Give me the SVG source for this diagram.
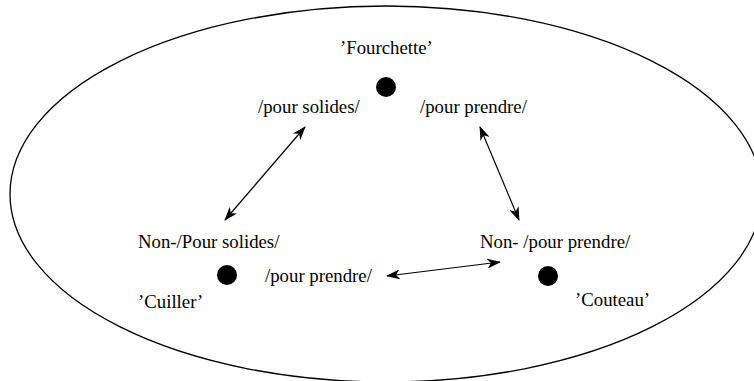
<svg xmlns="http://www.w3.org/2000/svg" width="754" height="381" viewBox="0 0 754 381">
<style>
text{font-family:"Liberation Serif","Times New Roman",serif;font-size:18.8px;fill:#000}
.c{stroke:#000;stroke-width:1.2;fill:none;marker-start:url(#ah);marker-end:url(#ah)}
.dot{fill:#000}
</style>
<defs>
<marker id="ah" viewBox="0 0 14 10" refX="13" refY="5" markerWidth="14" markerHeight="10" markerUnits="userSpaceOnUse" orient="auto-start-reverse">
<path d="M0,0 L14,5 L0,10 L4,5 Z" fill="#000"/>
</marker>
</defs>
<rect width="754" height="381" fill="#fff"/>
<ellipse cx="386" cy="194" rx="376" ry="188" fill="none" stroke="#000" stroke-width="1.3"/>
<g id="fourchette">
<text x="340" y="54">’Fourchette’</text>
<circle class="dot" cx="386" cy="87" r="10"/>
<text x="258" y="113">/pour solides/</text>
<text x="420" y="113">/pour prendre/</text>
</g>
<g id="cuiller">
<text x="138" y="248">Non-/Pour solides/</text>
<circle class="dot" cx="227" cy="275" r="10"/>
<text x="265" y="282">/pour prendre/</text>
<text x="138" y="308">’Cuiller’</text>
</g>
<g id="couteau">
<text x="480" y="248">Non- /pour prendre/</text>
<circle class="dot" cx="548" cy="276" r="10"/>
<text x="575" y="306">’Couteau’</text>
</g>
<g id="connectors">
<line class="c" x1="305" y1="127" x2="225" y2="220"/>
<line class="c" x1="480" y1="127" x2="519" y2="220"/>
<line class="c" x1="387" y1="276" x2="500" y2="262"/>
</g>
</svg>
